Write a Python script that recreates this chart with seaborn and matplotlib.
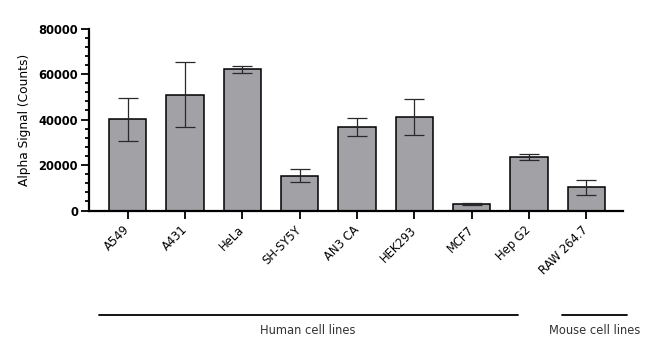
import numpy as np
import pandas as pd
import matplotlib
matplotlib.use("Agg")
import matplotlib.pyplot as plt
from matplotlib.lines import Line2D
from matplotlib.ticker import MultipleLocator
from matplotlib.transforms import ScaledTranslation
import seaborn as sns

cell_lines = ["A549", "A431", "HeLa", "SH-SY5Y", "AN3 CA", "HEK293", "MCF7", "Hep G2", "RAW 264.7"]
signal = [40100, 51000, 62100, 15300, 36900, 41000, 2900, 23500, 10300]
sd = [9400, 14300, 1400, 2900, 3950, 7900, 300, 1200, 3300]
y_ticks = [0, 20000, 40000, 60000, 80000]
group_labels = ["Human cell lines", "Mouse cell lines"]

sns.set_theme(style="ticks")
plt.rcParams["font.family"] = ["DejaVu Sans"]
plt.rcParams["text.color"] = "black"
plt.rcParams["axes.labelcolor"] = "black"
plt.rcParams["xtick.color"] = "black"
plt.rcParams["ytick.color"] = "black"

df = pd.DataFrame({"cell": cell_lines, "signal": signal, "sd": sd})

fig = plt.figure(figsize=(6.6, 3.43), dpi=100)
ax = fig.add_axes([89 / 660, 1 - 210.6 / 343, (623 - 89) / 660, 182 / 343])

sns.barplot(data=df, x="cell", y="signal", color="#a2a1a6", saturation=1,
            edgecolor="black", linewidth=1.1, width=0.65, errorbar=None, ax=ax)
ax.errorbar(np.arange(len(cell_lines)), df["signal"], yerr=df["sd"], fmt="none",
            ecolor="#2a2a2a", elinewidth=0.9, capsize=7, capthick=0.9, zorder=5)

ax.set_ylim(0, 80000)
ax.set_xlim(-0.674, 8.64)
ax.set_yticks(y_ticks)
ax.yaxis.set_minor_locator(MultipleLocator(4000))
ax.set_yticklabels([str(v) for v in y_ticks], fontsize=8.3, fontweight="bold", color="black")
ax.set_xticks(range(len(cell_lines)))
ax.set_xticklabels(cell_lines, rotation=45, ha="right", va="center",
                   rotation_mode="anchor", fontsize=8.3, color="black")
offset = ScaledTranslation(-2 / 100, 0, fig.dpi_scale_trans)
for lab in ax.get_xticklabels():
    lab.set_transform(lab.get_transform() + offset)
ax.set_xlabel("")
ax.set_ylabel("Alpha Signal (Counts)", fontsize=8.8, labelpad=5, color="black")

for s in ["top", "right"]:
    ax.spines[s].set_visible(False)
ax.spines["left"].set_linewidth(1.6)
ax.spines["bottom"].set_linewidth(1.6)
ax.spines["left"].set_color("black")
ax.spines["bottom"].set_color("black")
ax.tick_params(axis="y", which="major", length=6, width=1.3, pad=2, color="black")
ax.tick_params(axis="y", which="minor", length=3.2, width=1.3, color="black")
ax.tick_params(axis="x", which="major", length=5.5, width=1.3, pad=7, color="black")

# group annotations
yl = 1 - 314.5 / 343
fig.add_artist(Line2D([99 / 660, 518 / 660], [yl, yl], color="black", lw=1.3))
fig.add_artist(Line2D([562 / 660, 627 / 660], [yl, yl], color="black", lw=1.3))
yt = 1 - 331 / 343
fig.text(308 / 660, yt, group_labels[0], ha="center", va="center", fontsize=8.3, color="#333333")
fig.text(595 / 660, yt, group_labels[1], ha="center", va="center", fontsize=8.3, color="#333333")

fig.savefig("out.png", dpi=100)
